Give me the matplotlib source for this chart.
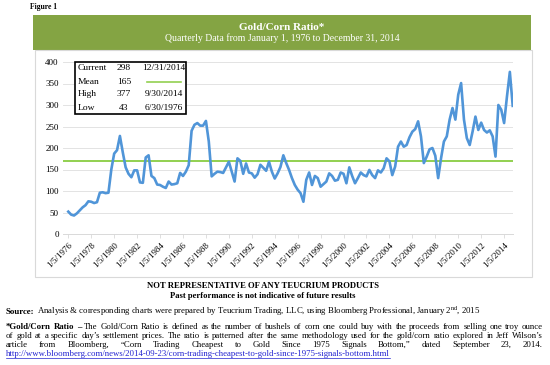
import numpy as np
import matplotlib
matplotlib.use("Agg")
import matplotlib.pyplot as plt
from matplotlib.patches import Rectangle
from matplotlib.lines import Line2D

plt.rcParams['font.family'] = ['Liberation Serif', 'DejaVu Serif']
plt.rcParams['mathtext.fontset'] = 'custom'
plt.rcParams['mathtext.rm'] = 'Liberation Serif'

# --- Data: quarterly gold/corn ratio, 1976Q1 .. 2014Q4 ---
ratio = [
    52, 45, 43, 48, 55, 62, 67, 76,        # 1976-77
    75, 72, 74, 96, 97, 95, 96, 150,       # 1978-79
    187, 195, 228, 190, 155, 140, 132, 148,  # 1980-81
    148, 120, 119, 178, 183, 135, 130, 115,  # 1982-83
    114, 110, 107, 122, 115, 116, 118, 142,  # 1984-85
    135, 145, 160, 240, 254, 258, 252, 252,  # 1986-87
    263, 215, 134, 140, 145, 144, 142, 155,  # 1988-89
    168, 145, 122, 176, 170, 140, 164, 143,  # 1990-91
    141, 131, 139, 161, 154, 147, 168, 145,  # 1992-93
    129, 141, 156, 183, 165, 149, 130, 114,  # 1994-95
    103, 95, 75, 126, 143, 114, 135, 130,    # 1996-97
    110, 116, 122, 141, 135, 124, 126, 143,  # 1998-99
    140, 118, 155, 135, 118, 130, 143, 137,  # 2000-01
    134, 149, 137, 130, 148, 143, 153, 176,  # 2002-03
    169, 137, 157, 203, 215, 203, 207, 225,  # 2004-05
    238, 244, 262, 227, 165, 180, 197, 200,  # 2006-07
    182, 130, 176, 215, 227, 266, 293, 266,  # 2008-09
    324, 351, 266, 223, 207, 238, 273, 242,  # 2010-11
    259, 242, 236, 241, 227, 180, 300, 289,  # 2012-13
    258, 320, 377, 298,                      # 2014
]
mean_level = 170
tick_years = list(range(1976, 2015, 2))
tick_labels = [f"1/5/{y}" for y in tick_years]

stat_names = ['Current', 'Mean', 'High', 'Low']
stat_values = [298, 165, 377, 43]
stat_dates = ['12/31/2014', '', '9/30/2014', '6/30/1976']

W, H = 550, 365
def fx(x): return x / W
def fy(y): return 1 - y / H

fig = plt.figure(figsize=(5.5, 3.65), dpi=100)

# --- header band and chart frame ---
green = '#84A443'
fig.patches.append(Rectangle((fx(33), fy(50)), fx(531) - fx(33), fy(15) - fy(50),
                             transform=fig.transFigure, facecolor=green, edgecolor='none', zorder=-2))
fig.patches.append(Rectangle((fx(35), fy(277)), fx(532) - fx(35), fy(50) - fy(277),
                             transform=fig.transFigure, facecolor='white', edgecolor='#D9D9D9',
                             lw=0.8, zorder=-2))
fig.text(fx(30), fy(7), 'Figure 1', fontsize=5.5, weight='bold', va='center')
fig.text(fx(282), fy(27), 'Gold/Corn Ratio*', fontsize=8, weight='bold', color='white',
         ha='center', va='center')
fig.text(fx(282), fy(38), 'Quarterly Data from January 1, 1976 to December 31, 2014', fontsize=7,
         color='white', ha='center', va='center')

# --- main plot ---
ax = fig.add_axes([fx(63), fy(234), fx(513) - fx(63), fy(62) - fy(234)])
ax.patch.set_alpha(0)
q = np.arange(len(ratio))
ax.plot(q, ratio, color='#5095D8', lw=1.9, zorder=3)
ax.axhline(mean_level, color='#92D050', lw=1.4, zorder=2)
ax.set_xlim(-1.85, 155.1)
ax.set_ylim(0, 400)
ax.set_yticks(range(0, 401, 50))
ax.grid(axis='y', color='#E3E3E3', lw=0.7)
ax.set_axisbelow(True)
for s in ['top', 'right', 'left']:
    ax.spines[s].set_visible(False)
ax.spines['bottom'].set_color('#D9D9D9')
ax.spines['bottom'].set_linewidth(0.7)
ax.set_xticks(q[::8])
ax.set_xticklabels(tick_labels, rotation=45, ha='right', rotation_mode='anchor', fontsize=6.5)
ax.tick_params(axis='x', length=3, color='#D9D9D9', width=0.6, pad=2)
ax.tick_params(axis='y', length=0, labelsize=6.5, pad=3)

# --- stats box ---
fig.patches.append(Rectangle((fx(75), fy(114)), fx(186) - fx(75), fy(62) - fy(114),
                             transform=fig.transFigure, facecolor='white', edgecolor='black',
                             lw=1.2, zorder=5))
row_y = [68.3, 81.5, 94.5, 107.5]
for name, val, date, yy in zip(stat_names, stat_values, stat_dates, row_y):
    fig.text(fx(77.5), fy(yy), name, fontsize=6.8, va='center', zorder=6)
    fig.text(fx(124), fy(yy), str(val), fontsize=6.8, va='center', ha='center', zorder=6)
    if date:
        fig.text(fx(163.5), fy(yy), date, fontsize=6.8, va='center', ha='center', zorder=6)
    else:
        fig.lines.append(Line2D([fx(147), fx(181)], [fy(yy), fy(yy)], transform=fig.transFigure,
                                color='#92D050', lw=1.2, zorder=6))

# --- footnotes ---
fig.text(fx(263), fy(286), 'NOT REPRESENTATIVE OF ANY TEUCRIUM PRODUCTS', fontsize=6.2,
         weight='bold', ha='center', va='center')
fig.text(fx(263), fy(296), 'Past performance is not indicative of future results', fontsize=6.2,
         weight='bold', ha='center', va='center')

fig.canvas.draw()
r = fig.canvas.get_renderer()
fs = 6.3

def width_of(s, w):
    t = fig.text(0, 0, s, fontsize=fs, weight=w)
    bw = t.get_window_extent(r).width
    t.remove()
    return bw

def place_runs(x, y, runs):
    for s, w in runs:
        fig.text(fx(x), fy(y), s, fontsize=fs, weight=w, va='baseline')
        x += width_of(s, w)
    return x

def justify(x0, x1, y, words):
    widths = [width_of(s, w) for s, w in words]
    gap = (x1 - x0 - sum(widths)) / (len(words) - 1)
    x = x0
    for (s, w), bw in zip(words, widths):
        fig.text(fx(x), fy(y), s, fontsize=fs, weight=w, va='baseline')
        x += bw + gap

sp = width_of('a a', 'normal') - width_of('aa', 'normal')
xx = place_runs(6, 314, [('Source:', 'bold')])
place_runs(xx + sp, 314, [('Analysis & corresponding charts were prepared by Teucrium Trading, LLC, '
                           'using Bloomberg Professional, January 2$^{\\mathrm{nd}}$, 2015', 'normal')])

line1 = [(s, 'bold') for s in ['*Gold/Corn', 'Ratio', '–']] + \
    [(s, 'normal') for s in ('The Gold/Corn Ratio is defined as the number of bushels of corn one could buy '
                             'with the proceeds from selling one troy ounce').split()]
line2 = [(s, 'normal') for s in ('of gold at a specific day’s settlement prices. The ratio is patterned after '
                                 'the same methodology used for the gold/corn ratio explored in Jeff Wilson’s').split()]
line3 = [(s, 'normal') for s in ('article from Bloomberg, “Corn Trading Cheapest to Gold Since 1975 Signals '
                                 'Bottom,” dated September 23, 2014.').split()]
justify(6, 543, 329, line1)
justify(6, 543, 338, line2)
justify(6, 543, 347, line3)

url = 'http://www.bloomberg.com/news/2014-09-23/corn-trading-cheapest-to-gold-since-1975-signals-bottom.html'
fig.text(fx(6), fy(356), url, fontsize=fs, color='#2020D0', va='baseline')
uw = width_of(url, 'normal')
fig.lines.append(Line2D([fx(6), fx(6 + uw)], [fy(357.5), fy(357.5)], transform=fig.transFigure,
                        color='#2020D0', lw=0.5))

fig.savefig('out.png', dpi=100)
